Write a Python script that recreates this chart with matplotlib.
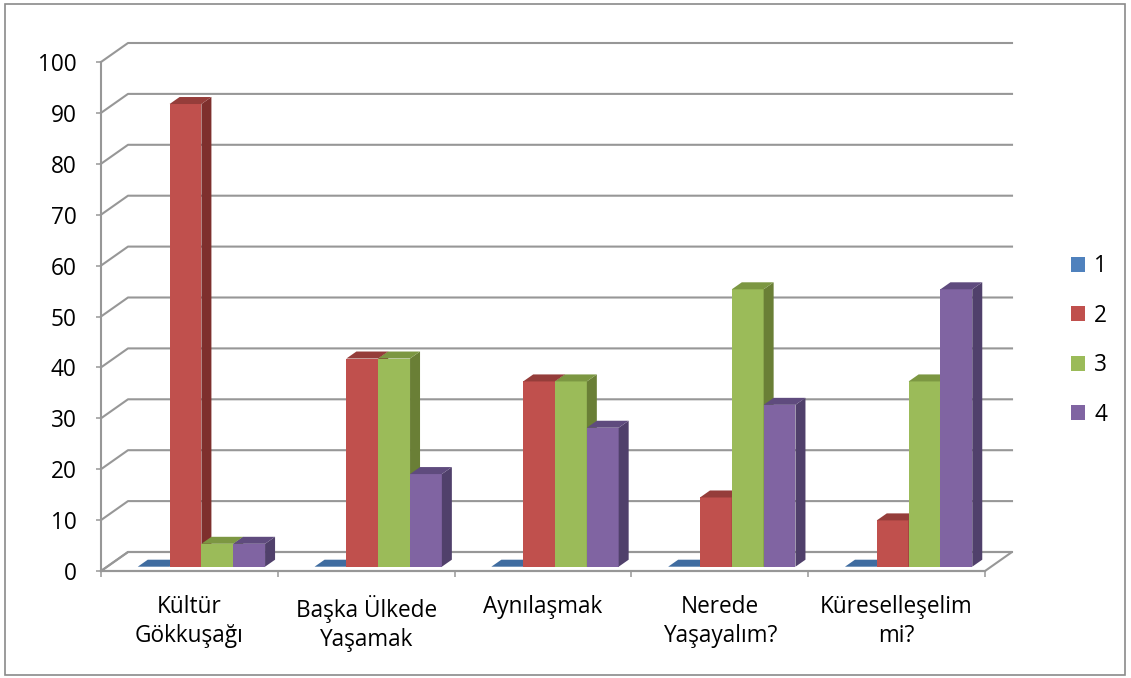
import matplotlib
matplotlib.use("Agg")
import matplotlib.pyplot as plt
from matplotlib.patches import Polygon, Rectangle
from matplotlib.lines import Line2D
from matplotlib.transforms import IdentityTransform
import numpy as np

# ---------------- data ----------------
categories = ["Kültür\nGökkuşağı", "Başka Ülkede\nYaşamak", "Aynılaşmak",
              "Nerede\nYaşayalım?", "Küreselleşelim\nmi?"]
series_names = ["1", "2", "3", "4"]
s1 = [0, 0, 0, 0, 0]
s2 = [90.9, 40.9, 36.4, 13.6, 9.1]
s3 = [4.5, 40.9, 36.4, 54.5, 36.4]
s4 = [4.5, 18.2, 27.3, 31.8, 54.5]
yticks = [0, 10, 20, 30, 40, 50, 60, 70, 80, 90, 100]

series = [s1, s2, s3, s4]
front_cols = ["#4F81BD", "#C0504D", "#9BBB59", "#8064A2"]
side_cols = ["#34567F", "#7E2F2D", "#6A7F36", "#50406B"]
top_cols = ["#3F6CA0", "#953D3A", "#7C9742", "#5F4B7E"]

FONT = ["Open Sans", "DejaVu Sans"]
plt.rcParams["font.family"] = FONT
FS = 16.3
GRID = "#979797"

W, H = 1131, 678
fig = plt.figure(figsize=(W / 100, H / 100), dpi=100)
fig.patch.set_facecolor("white")
ax = fig.add_axes([101 / W, (H - 571) / H, (985 - 101) / W, (571 - 62) / H])
ax.set_xlim(-0.5, len(categories) - 0.5)
ax.set_ylim(0, 100)
ax.patch.set_alpha(0)

ID = IdentityTransform()
DX, DY = 27.0, 19.0          # full depth of the 3D box (pixels)
FX, FY = 6.0, 4.3            # front face offset of bars
BX, BY = 10.0, 7.0           # depth of each bar
bw = 0.18                    # bar width in category units
shift = 0.034


def disp(x, y):
    return np.array(ax.transData.transform((x, y)))


x_lo, x_hi = -0.5, len(categories) - 0.5

# floor
p0, p1 = disp(x_lo, 0), disp(x_hi, 0)
floor = Polygon([p0, p1, p1 + (DX, DY), p0 + (DX, DY)], closed=True,
                facecolor="white", edgecolor=GRID, lw=1.5, transform=ID,
                clip_on=False, zorder=0.5)
ax.add_patch(floor)

# side wall + back wall gridlines
for t in yticks:
    a = disp(x_lo, t)
    b = a + (DX, DY)
    c = disp(x_hi, t) + (DX, DY)
    ax.add_line(Line2D([a[0], b[0], c[0]], [a[1], b[1], c[1]], color=GRID,
                       lw=1.5, transform=ID, clip_on=False, zorder=1))

# bars
z = 3
for i in range(len(categories)):
    for k, s in enumerate(series):
        v = s[i]
        x0 = i + shift + (k - 2) * bw
        x1 = x0 + bw
        f = np.array([FX, FY])
        d = np.array([BX, BY])
        bl, br = disp(x0, 0) + f, disp(x1, 0) + f
        tl, tr = disp(x0, v) + f, disp(x1, v) + f
        if v > 0:
            ax.add_patch(Polygon([bl, br, tr, tl], closed=True,
                                 facecolor=front_cols[k], edgecolor="none",
                                 transform=ID, clip_on=False, zorder=z))
            ax.add_patch(Polygon([br, br + d, tr + d, tr], closed=True,
                                 facecolor=side_cols[k], edgecolor="none",
                                 transform=ID, clip_on=False, zorder=z))
            ax.add_patch(Polygon([tl, tr, tr + d, tl + d], closed=True,
                                 facecolor=top_cols[k], edgecolor="none",
                                 transform=ID, clip_on=False, zorder=z))
        else:
            ax.add_patch(Polygon([tl, tr, tr + d, tl + d], closed=True,
                                 facecolor=top_cols[k], edgecolor="none",
                                 transform=ID, clip_on=False, zorder=z))
        z += 0.01

# axes: y axis (front-left), x axis (front of floor)
for sp in ["top", "right"]:
    ax.spines[sp].set_visible(False)
ax.spines["left"].set_color(GRID)
ax.spines["left"].set_linewidth(1.5)
ax.spines["bottom"].set_color(GRID)
ax.spines["bottom"].set_linewidth(1.5)
ax.spines["left"].set_zorder(2)
ax.spines["bottom"].set_zorder(2)

ax.set_yticks(yticks)
ax.set_yticklabels([str(t) for t in yticks])
ax.tick_params(axis="y", length=3.6, width=1.1, color=GRID, pad=14,
               labelsize=FS, labelcolor="black")
ax.set_xticks(np.arange(x_lo, x_hi + 0.01, 1.0))
ax.set_xticklabels([])
ax.tick_params(axis="x", length=4.5, width=1.1, color=GRID)
for i, c in enumerate(categories):
    ax.annotate(c, xy=(i, 0), xycoords="data", xytext=(0, -24),
                textcoords="offset pixels", ha="center", va="top",
                fontsize=FS, linespacing=1.25, color="black")

# legend
handles = [Rectangle((0, 0), 1, 1, facecolor=front_cols[k], edgecolor="none")
           for k in range(len(series_names))]
fig.legend(handles, series_names, loc="center left",
           bbox_to_anchor=(1071 / W, (H - 340.5) / H), frameon=False,
           fontsize=FS, handlelength=0.64, handleheight=0.64,
           handletextpad=0.38, labelspacing=1.12, borderpad=0,
           borderaxespad=0)

# outer border
fig.patches.append(Rectangle((5 / W, 3 / H), (1125 - 5) / W, (674 - 3) / H,
                             transform=fig.transFigure, facecolor="none",
                             edgecolor="#8a8a8a", lw=1.2))

fig.savefig("out.png", dpi=100)
